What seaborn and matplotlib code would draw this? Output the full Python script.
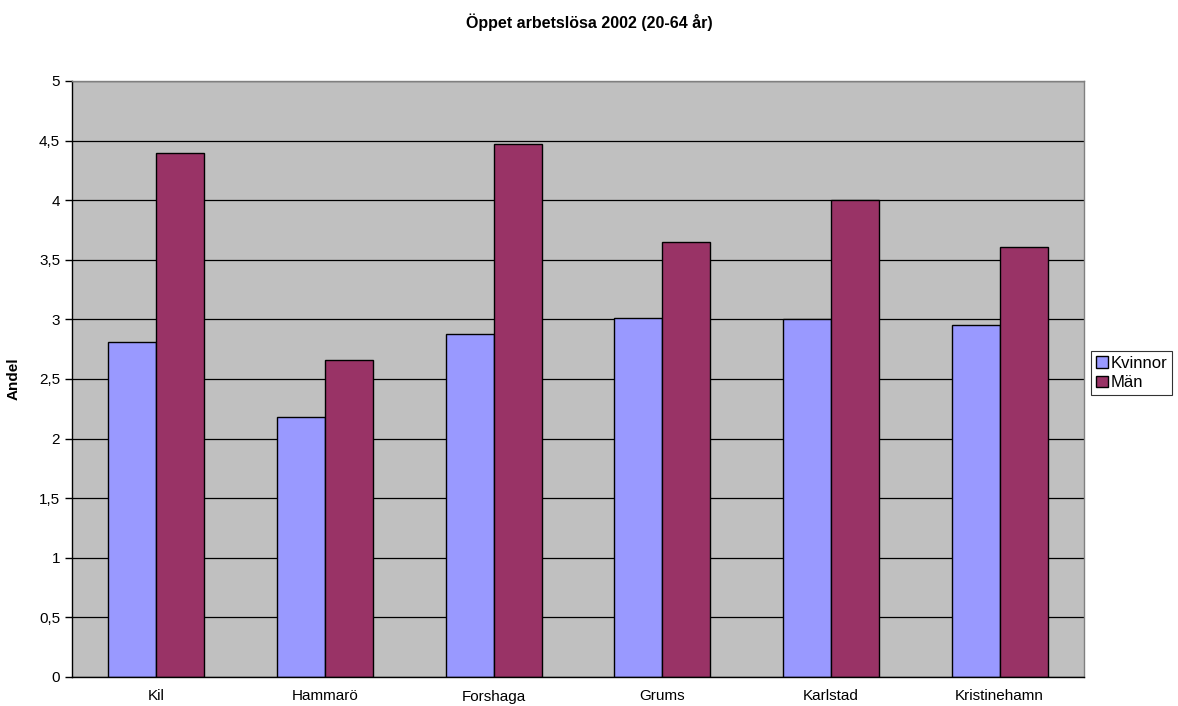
import matplotlib
matplotlib.use("Agg")
import matplotlib.pyplot as plt
import seaborn as sns
import pandas as pd
from matplotlib.ticker import FuncFormatter, FixedLocator
from matplotlib.patches import Patch

categories = ["Kil", "Hammarö", "Forshaga", "Grums", "Karlstad", "Kristinehamn"]
kvinnor = [2.81, 2.18, 2.88, 3.01, 3.00, 2.95]
man = [4.40, 2.66, 4.47, 3.65, 4.00, 3.61]
series_names = ["Kvinnor", "Män"]
colors = ["#9999FF", "#993366"]

df = pd.DataFrame({
    "Kommun": categories * 2,
    "Serie": [series_names[0]] * len(categories) + [series_names[1]] * len(categories),
    "Andel": kvinnor + man,
})

sns.set_style("white")
plt.rcParams["font.family"] = ["Liberation Sans", "DejaVu Sans"]
plt.rcParams["text.color"] = "black"
plt.rcParams["axes.labelcolor"] = "black"
plt.rcParams["xtick.color"] = "black"
plt.rcParams["ytick.color"] = "black"

fig = plt.figure(figsize=(11.78, 7.06), dpi=100)
ax = fig.add_axes([72 / 1178, 1 - 677 / 706, (1084 - 72) / 1178, (677 - 81) / 706])
ax.set_facecolor("#C0C0C0")

sns.barplot(data=df, x="Kommun", y="Andel", hue="Serie", order=categories,
            hue_order=series_names, palette=colors, width=0.57,
            edgecolor="black", linewidth=1.0, saturation=1, ax=ax, legend=False)

ax.set_ylim(0, 5)
ax.set_xlim(-0.5, len(categories) - 0.5)
ax.set_yticks([i * 0.5 for i in range(11)])
ax.yaxis.set_major_formatter(FuncFormatter(lambda v, p: ("%g" % v).replace(".", ",")))
ax.grid(axis="y", color="black", linewidth=0.9)
ax.set_axisbelow(True)

ax.set_xticks(range(len(categories)))
ax.set_xticklabels(categories, fontsize=11)
ax.tick_params(axis="x", which="major", length=0, pad=9)
ax.xaxis.set_minor_locator(FixedLocator([i - 0.5 for i in range(len(categories) + 1)]))
ax.tick_params(axis="x", which="minor", length=5, width=1, color="black", direction="out")
ax.tick_params(axis="y", length=5, width=1, color="black", direction="out", labelsize=11, left=True)

for s in ["left", "bottom"]:
    ax.spines[s].set_color("black")
    ax.spines[s].set_linewidth(1)
for s in ["top", "right"]:
    ax.spines[s].set_color("#808080")
    ax.spines[s].set_linewidth(1)

ax.set_xlabel("")
ax.set_ylabel("Andel", fontsize=11, fontweight="bold", labelpad=13)

fig.text(0.5, 1 - 22 / 706, "Öppet arbetslösa 2002 (20-64 år)", ha="center", va="center",
         fontsize=11.5, fontweight="bold")

handles = [Patch(facecolor=c, edgecolor="black", linewidth=1) for c in colors]
leg = fig.legend(handles, series_names, loc="upper left",
                 bbox_to_anchor=(1091 / 1178, 1 - 351 / 706), fontsize=12,
                 frameon=True, fancybox=False, handlelength=0.7, handleheight=0.7,
                 handletextpad=0.15, borderpad=0.3, labelspacing=0.25, borderaxespad=0)
leg.get_frame().set_edgecolor("black")
leg.get_frame().set_linewidth(0.8)

fig.savefig("out.png", dpi=100, facecolor="white")
